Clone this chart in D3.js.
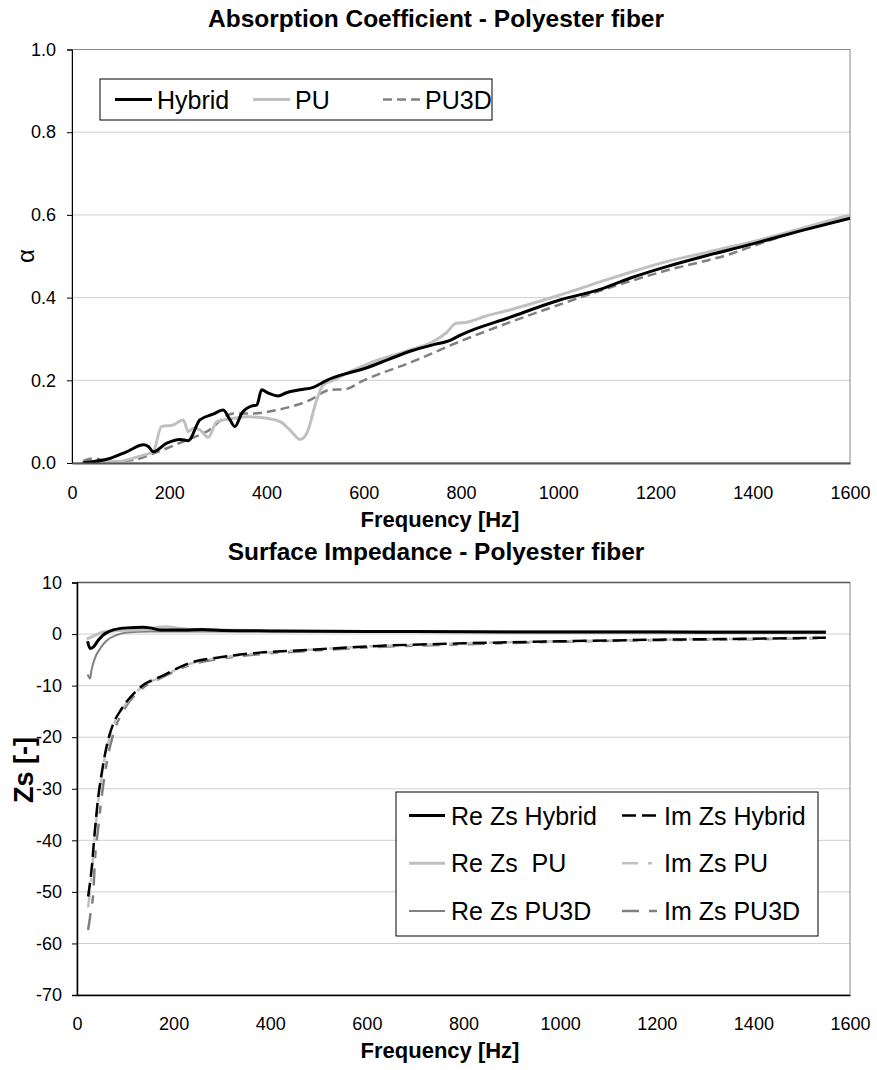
<!DOCTYPE html>
<html>
<head>
<meta charset="utf-8">
<script src="https://cdn.jsdelivr.net/npm/d3@7"></script>
<style>
  html, body { margin: 0; padding: 0; background: #fff; }
  svg { display: block; font-family: "Liberation Sans", Arial, sans-serif; }
</style>
</head>
<body>
<svg id="chart" width="877" height="1070"></svg>
<script>
// ---------- DATA ----------
const freqTicks = [0, 200, 400, 600, 800, 1000, 1200, 1400, 1600];
const alphaTicks = [0, 0.2, 0.4, 0.6, 0.8, 1.0];
const zsTicks = [10, 0, -10, -20, -30, -40, -50, -60, -70];

const alphaSeriesNames = ["Hybrid", "PU", "PU3D"];
const alphaHybrid = [[23,0.001],[78,0.011],[112,0.027],[147,0.044],[157,0.04],[167,0.027],[195,0.048],[222,0.057],[239,0.054],[263,0.104],[290,0.118],[311,0.128],[325,0.104],[335,0.088],[349,0.12],[370,0.138],[380,0.14],[390,0.177],[404,0.169],[424,0.162],[441,0.17],[469,0.177],[496,0.183],[524,0.2],[560,0.215],[600,0.228],[650,0.25],[700,0.272],[740,0.285],[780,0.298],[800,0.31],[900,0.352],[1000,0.393],[1086,0.42],[1150,0.448],[1223,0.475],[1300,0.5],[1400,0.53],[1500,0.562],[1600,0.592]];
const alphaPU = [[20,0.003],[78,0.001],[147,0.019],[167,0.027],[184,0.088],[208,0.092],[229,0.104],[239,0.076],[250,0.084],[263,0.08],[280,0.062],[298,0.1],[332,0.108],[360,0.112],[401,0.108],[428,0.1],[448,0.08],[469,0.057],[483,0.072],[503,0.152],[517,0.189],[537,0.2],[580,0.225],[620,0.245],[660,0.26],[700,0.275],[740,0.292],[770,0.315],[790,0.338],[810,0.34],[850,0.355],[900,0.37],[1000,0.405],[1086,0.438],[1150,0.462],[1223,0.487],[1300,0.508],[1400,0.535],[1500,0.567],[1600,0.6]];
const alphaPU3D = [[23,0.005],[44,0.011],[78,0.003],[126,0.007],[167,0.023],[235,0.055],[277,0.076],[332,0.12],[373,0.12],[421,0.128],[489,0.152],[531,0.177],[560,0.178],[600,0.2],[700,0.245],[800,0.295],[900,0.34],[1000,0.382],[1127,0.432],[1243,0.472],[1300,0.488],[1353,0.505],[1401,0.525],[1456,0.547],[1500,0.565],[1600,0.6]];

const zsSeriesNames = ["Re Zs Hybrid", "Im Zs Hybrid", "Re Zs  PU", "Im Zs PU", "Re Zs PU3D", "Im Zs PU3D"];
const zsReHybrid = [[22,-1.4],[27,-2.8],[34,-2.5],[44,-1.2],[54,-0.2],[75,0.8],[103,1.2],[137,1.3],[151,1.2],[172,0.8],[220,0.8],[260,0.9],[300,0.7],[400,0.6],[600,0.5],[800,0.45],[1000,0.4],[1200,0.38],[1400,0.35],[1550,0.35]];
const zsRePU = [[20,-1.0],[34,-0.4],[54,0.4],[89,0.7],[137,0.9],[185,1.4],[206,1.2],[240,0.9],[300,0.8],[400,0.6],[600,0.5],[800,0.45],[1000,0.4],[1200,0.35],[1400,0.3],[1550,0.3]];
const zsRePU3D = [[22,-7.8],[27,-8.6],[30,-7],[37,-4.7],[48,-2.8],[61,-1.3],[82,-0.2],[103,0.3],[151,0.5],[300,0.5],[600,0.5],[1000,0.5],[1550,0.5]];
const zsImHybrid = [[23,-50.9],[30,-45.8],[37,-38.1],[44,-31.6],[51,-27.1],[61,-21.9],[75,-17.4],[89,-15],[103,-13.1],[137,-9.9],[172,-8.3],[240,-5.4],[296,-4.5],[378,-3.6],[475,-3.1],[600,-2.4],[800,-1.8],[1000,-1.4],[1200,-1.1],[1400,-0.9],[1550,-0.7]];
const zsImPU = [[23,-53],[30,-47],[37,-39],[44,-32.5],[51,-27.5],[61,-22.5],[75,-17.8],[89,-15.2],[103,-13.3],[137,-10.1],[172,-8.4],[240,-5.6],[296,-4.6],[378,-3.7],[475,-3.1],[600,-2.4],[800,-1.8],[1000,-1.4],[1200,-1.1],[1400,-0.9],[1550,-0.7]];
const zsImPU3D = [[23,-57.4],[28,-54.2],[34,-49.7],[37,-44.1],[44,-37.6],[51,-31.6],[61,-25.2],[75,-19.4],[96,-14.9],[137,-10.4],[172,-8.6],[240,-5.8],[296,-4.8],[378,-3.9],[475,-3.3],[600,-2.6],[800,-2.0],[1000,-1.5],[1200,-1.2],[1400,-1.0],[1550,-0.8]];

// ---------- STYLES ----------
const alphaStyles = [
  {data: alphaHybrid, color: "#000000", width: 3, dash: null},
  {data: alphaPU, color: "#c0c0c0", width: 3, dash: null},
  {data: alphaPU3D, color: "#808080", width: 2.5, dash: "9,5"}
];
const zsStyles = [
  {data: zsReHybrid, color: "#000000", width: 3, dash: null},
  {data: zsImHybrid, color: "#000000", width: 2.5, dash: "14,6"},
  {data: zsRePU, color: "#c0c0c0", width: 3, dash: null},
  {data: zsImPU, color: "#c0c0c0", width: 2.5, dash: "16,10,4,10"},
  {data: zsRePU3D, color: "#808080", width: 2, dash: null},
  {data: zsImPU3D, color: "#808080", width: 2.5, dash: "17,10,8,10"}
];

const svg = d3.select("#chart");
const gridColor = "#cfcfcf";
const tickFont = 18;
const fmtInt = d => String(d);

// ---------- TOP CHART ----------
(function () {
  const L = 72, R = 850, T = 49.5, B = 463;
  const x = d3.scaleLinear().domain([0, 1600]).range([L, R]);
  const y = d3.scaleLinear().domain([0, 1]).range([B, T]);
  const g = svg.append("g");

  g.append("text").attr("x", 436).attr("y", 27).attr("text-anchor", "middle")
    .attr("font-size", 24.5).attr("font-weight", "bold").text("Absorption Coefficient - Polyester fiber");

  g.selectAll(".grid").data(alphaTicks.filter(d => d > 0 && d < 1)).enter().append("line")
    .attr("x1", L).attr("x2", R).attr("y1", d => y(d)).attr("y2", d => y(d))
    .attr("stroke", gridColor).attr("stroke-width", 1);
  g.append("rect").attr("x", L).attr("y", T).attr("width", R - L).attr("height", B - T)
    .attr("fill", "none").attr("stroke", "#888").attr("stroke-width", 1);

  const line = d3.line().x(d => x(d[0])).y(d => y(d[1])).curve(d3.curveMonotoneX);
  alphaStyles.slice().reverse().forEach(s => {
    g.append("path").attr("d", line(s.data)).attr("fill", "none")
      .attr("stroke", s.color).attr("stroke-width", s.width)
      .attr("stroke-dasharray", s.dash).attr("stroke-linejoin", "round");
  });

  const yAxis = g.append("g").attr("transform", `translate(${L},0)`)
    .call(d3.axisLeft(y).tickValues(alphaTicks).tickFormat(d3.format(".1f")).tickSize(5).tickPadding(11));
  yAxis.select(".domain").attr("stroke", "#000");
  yAxis.selectAll("text").attr("font-size", tickFont).attr("font-family", "Liberation Sans, Arial, sans-serif").attr("fill", "#000");
  const xAxis = g.append("g").attr("transform", `translate(0,${B})`)
    .call(d3.axisBottom(x).tickValues(freqTicks).tickFormat(fmtInt).tickSize(0).tickPadding(23));
  xAxis.select(".domain").attr("stroke", "#555").attr("stroke-width", 2);
  xAxis.selectAll("text").attr("font-size", tickFont).attr("font-family", "Liberation Sans, Arial, sans-serif").attr("fill", "#000");

  g.append("text").attr("x", 440).attr("y", 527).attr("text-anchor", "middle")
    .attr("font-size", 22).attr("font-weight", "bold").text("Frequency [Hz]");
  g.append("text").attr("transform", "translate(34,256) rotate(-90)").attr("text-anchor", "middle")
    .attr("font-size", 24).text("α");

  const lg = g.append("g");
  const lw = 37, ly = 99.5;
  const lxs = [115, 253, 383];
  lg.append("rect").attr("x", 100).attr("y", 79).attr("width", 392).attr("height", 41)
    .attr("fill", "#fff").attr("stroke", "#000").attr("stroke-width", 1);
  alphaStyles.forEach((s, i) => {
    const lx = lxs[i];
    lg.append("line").attr("x1", lx).attr("x2", lx + lw).attr("y1", ly).attr("y2", ly)
      .attr("stroke", s.color).attr("stroke-width", s.width).attr("stroke-dasharray", s.dash);
    lg.append("text").attr("x", lx + lw + 5).attr("y", ly).attr("dy", "0.36em")
      .attr("font-size", 25).text(alphaSeriesNames[i]);
  });
})();

// ---------- BOTTOM CHART ----------
(function () {
  const L = 77, R = 850, T = 582.5, B = 995;
  const x = d3.scaleLinear().domain([0, 1600]).range([L, R]);
  const y = d3.scaleLinear().domain([-70, 10]).range([B, T]);
  const g = svg.append("g");

  g.append("text").attr("x", 436).attr("y", 560).attr("text-anchor", "middle")
    .attr("font-size", 24.5).attr("font-weight", "bold").text("Surface Impedance - Polyester fiber");

  g.selectAll(".grid").data(zsTicks.filter(d => d > -70 && d < 10)).enter().append("line")
    .attr("x1", L).attr("x2", R).attr("y1", d => y(d)).attr("y2", d => y(d))
    .attr("stroke", gridColor).attr("stroke-width", 1);
  g.append("rect").attr("x", L).attr("y", T).attr("width", R - L).attr("height", B - T)
    .attr("fill", "none").attr("stroke", "#888").attr("stroke-width", 1);
  g.append("line").attr("x1", L).attr("x2", R).attr("y1", T).attr("y2", T)
    .attr("stroke", "#555").attr("stroke-width", 1.5);

  const line = d3.line().x(d => x(d[0])).y(d => y(d[1])).curve(d3.curveMonotoneX);
  [4, 5, 2, 3, 0, 1].forEach(i => {
    const s = zsStyles[i];
    g.append("path").attr("d", line(s.data)).attr("fill", "none")
      .attr("stroke", s.color).attr("stroke-width", s.width)
      .attr("stroke-dasharray", s.dash).attr("stroke-linejoin", "round");
  });

  const yAxis = g.append("g").attr("transform", `translate(${L},0)`)
    .call(d3.axisLeft(y).tickValues(zsTicks).tickFormat(fmtInt).tickSize(5).tickPadding(10));
  yAxis.select(".domain").attr("stroke", "#000").attr("stroke-width", 1.5);
  yAxis.selectAll("text").attr("font-size", tickFont).attr("font-family", "Liberation Sans, Arial, sans-serif").attr("fill", "#000");
  const xAxis = g.append("g").attr("transform", `translate(0,${B})`)
    .call(d3.axisBottom(x).tickValues(freqTicks).tickFormat(fmtInt).tickSize(0).tickPadding(22));
  xAxis.select(".domain").attr("stroke", "#000").attr("stroke-width", 1.5);
  xAxis.selectAll("text").attr("font-size", tickFont).attr("font-family", "Liberation Sans, Arial, sans-serif").attr("fill", "#000");

  g.append("text").attr("x", 440).attr("y", 1058).attr("text-anchor", "middle")
    .attr("font-size", 22).attr("font-weight", "bold").text("Frequency [Hz]");
  g.append("text").attr("transform", "translate(33,770) rotate(-90)").attr("text-anchor", "middle")
    .attr("font-size", 27).attr("font-weight", "bold").text("Zs [-]");

  const lg = g.append("g");
  lg.append("rect").attr("x", 396).attr("y", 792).attr("width", 422).attr("height", 144)
    .attr("fill", "#fff").attr("stroke", "#000").attr("stroke-width", 1);
  const rows = [815.5, 863.3, 911];
  const cols = [409, 622];
  const lw = 36;
  zsStyles.forEach((s, i) => {
    const lx = cols[i % 2], ly = rows[Math.floor(i / 2)];
    lg.append("line").attr("x1", lx).attr("x2", lx + lw).attr("y1", ly).attr("y2", ly)
      .attr("stroke", s.color).attr("stroke-width", s.width).attr("stroke-dasharray", s.dash);
    lg.append("text").attr("x", lx + lw + 6).attr("y", ly).attr("dy", "0.36em")
      .attr("font-size", 25).style("white-space", "pre").text(zsSeriesNames[i]);
  });
})();
</script>
</body>
</html>
